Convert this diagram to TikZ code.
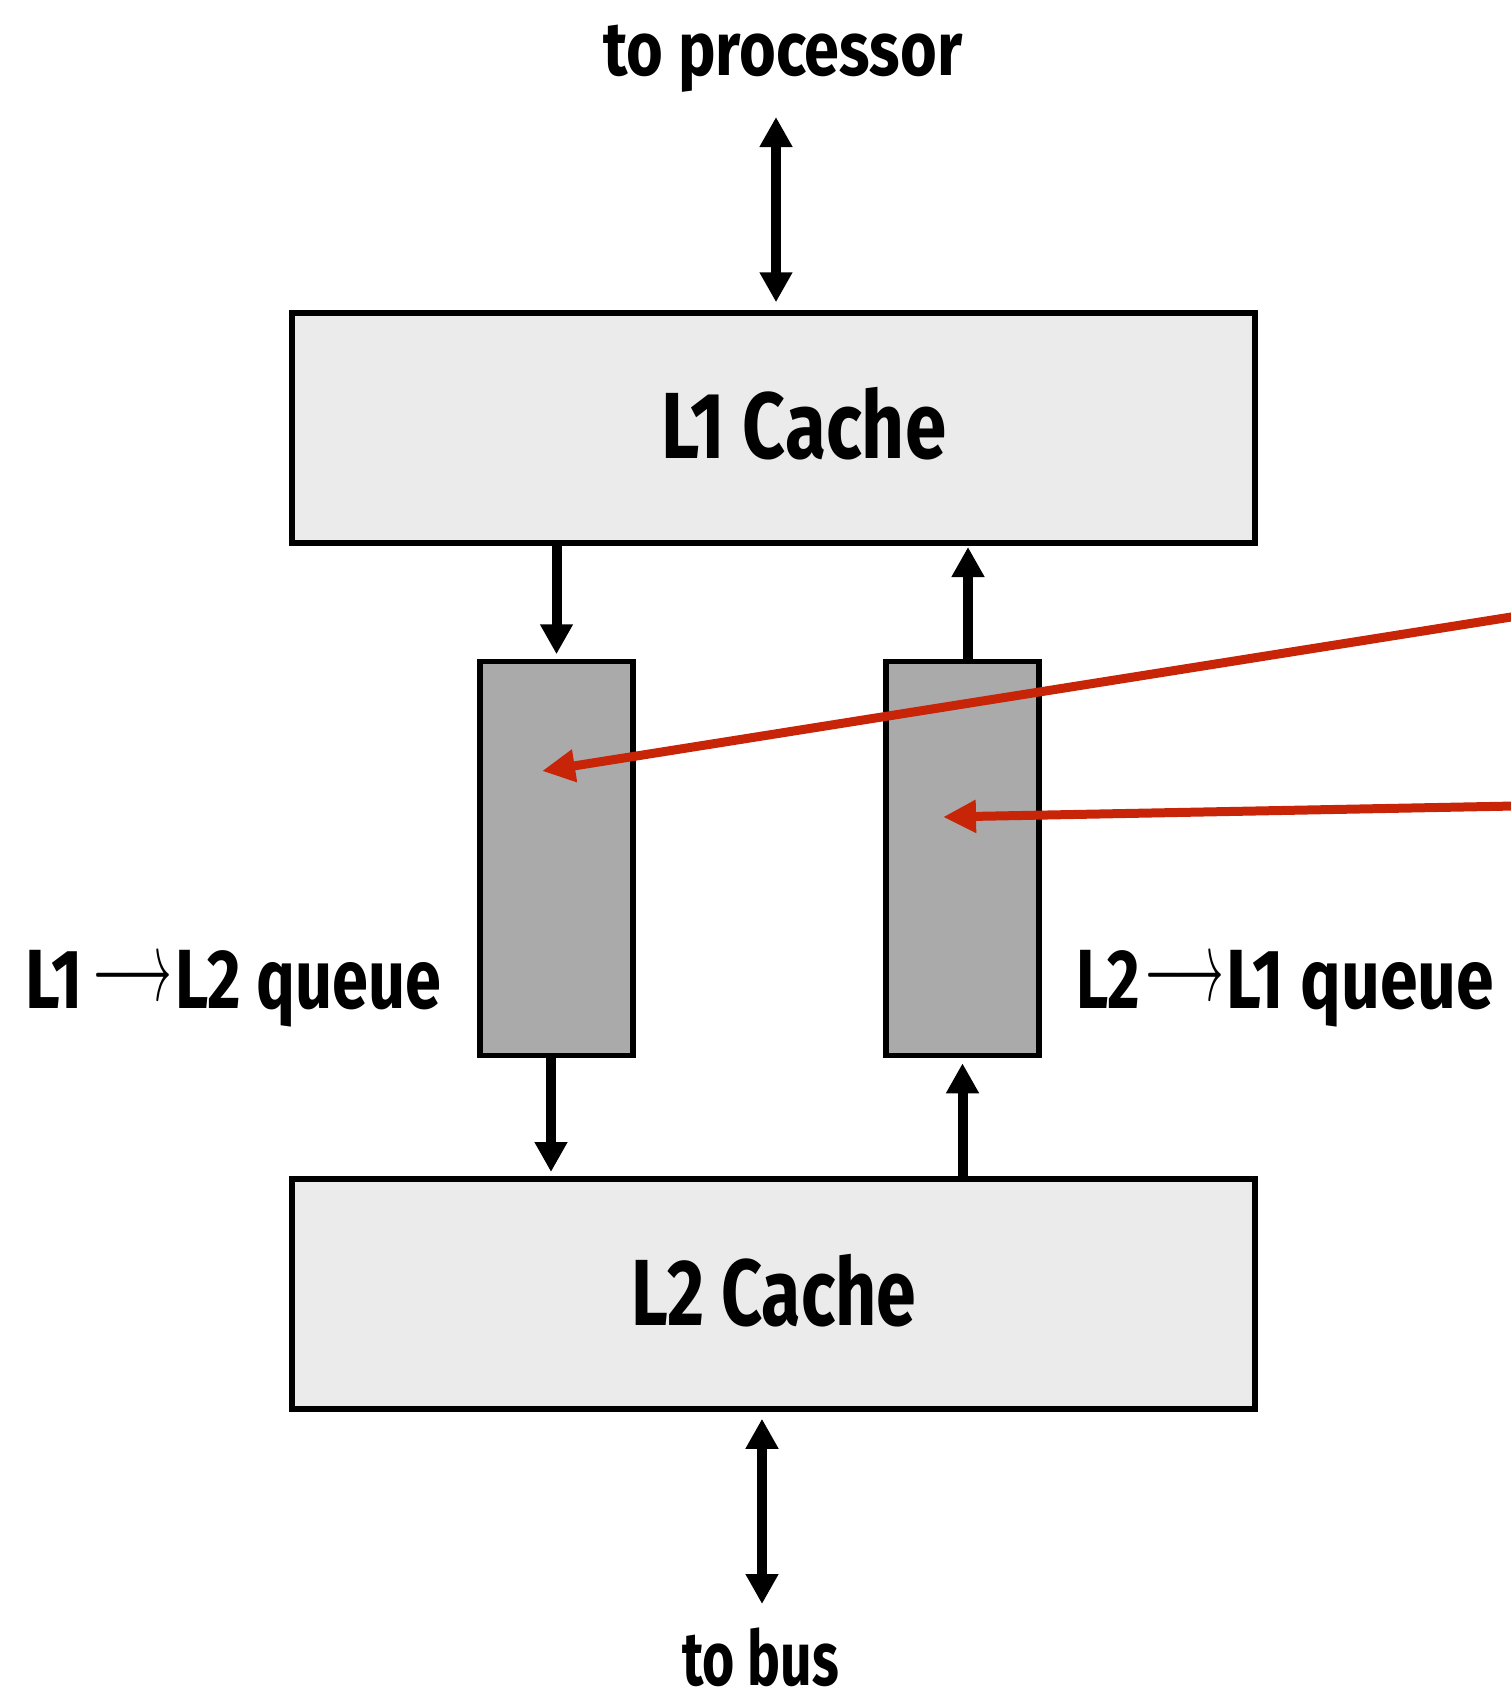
\documentclass[tikz,border=0pt]{standalone}
\usepackage{fontspec}
\usepackage{graphicx}
\setmainfont{Fira Sans}
\usetikzlibrary{arrows.meta}
\definecolor{boxfill}{HTML}{EBEBEB}
\definecolor{qfill}{HTML}{AAAAAA}
\definecolor{hl}{RGB}{199,36,8}
\newcommand{\fitw}[2]{\resizebox{#1}{\height}{#2}}
\newcommand{\thinarrow}{\raisebox{7.5pt}{\resizebox{80pt}{37pt}{\normalsize$\longrightarrow$}}}
\begin{document}
\begin{tikzpicture}[x=1pt,y=-1pt,
  cache/.style={draw=black, line width=5.5pt, fill=boxfill, minimum width=963pt, minimum height=230pt, inner sep=0pt},
  queuebox/.style={draw=black, line width=5.5pt, fill=qfill, minimum width=153pt, minimum height=394pt, inner sep=0pt},
  lbl/.style={anchor=base west, inner sep=0pt, font=\bfseries},
  flow/.style={line width=10pt, -{Triangle[length=30pt,width=31pt]}},
  twoway/.style={line width=10pt, {Triangle[length=30pt,width=31pt]}-{Triangle[length=30pt,width=31pt]}},
  pointer/.style={draw=hl, line width=9pt, -{Triangle[length=33pt,width=31pt]}}]
\useasboundingbox (0,0) rectangle (1511,1692);

% boxes
\node[cache] (L1) at (773.5,428) {};
\node[cache] (L2) at (773.5,1294) {};
\node[queuebox] (q1) at (556.5,858.5) {};
\node[queuebox] (q2) at (962.5,858.5) {};

% texts
\node[lbl] (tproc) at (603,75) {\fontsize{76pt}{80pt}\selectfont\fitw{359pt}{to processor}};
\node[lbl] (tL1) at (661,458) {\fontsize{94pt}{100pt}\selectfont\fitw{285pt}{L1 Cache}};
\node[lbl] (tL2) at (631,1325) {\fontsize{94pt}{100pt}\selectfont\fitw{285pt}{L2 Cache}};
\node[lbl] (tq1) at (25,1008) {\fontsize{84pt}{90pt}\selectfont\fitw{58pt}{L1}\hspace{9pt}\thinarrow\hspace{3pt}\fitw{266pt}{L2 queue}};
\node[lbl] (tq2) at (1076,1008) {\fontsize{84pt}{90pt}\selectfont\fitw{64pt}{L2}\hspace{4pt}\thinarrow\hspace{2pt}\fitw{268pt}{L1 queue}};
\node[lbl] (tbus) at (682,1685) {\fontsize{76pt}{80pt}\selectfont\fitw{157pt}{to bus}};

% free ends
\coordinate (ptop) at (776,117);
\coordinate (pbot) at (762,1604);
\coordinate (r1) at (1515,616.4);
\coordinate (r2) at (1515,806);
\coordinate (t1) at (542,771);
\coordinate (t2) at (943,817);

% black connectors
\draw[twoway, shorten >=8pt] (ptop) -- (ptop |- L1.north);
\draw[twoway, shorten <=7pt] (pbot |- L2.south) -- (pbot);
\draw[flow, shorten >=4.5pt] (q1.north |- L1.south) -- (q1.north);
\draw[flow, shorten >=7pt] (551,1055.5) -- (551,1179);
\draw[flow, shorten >=5pt] (q2.south |- L2.north) -- (q2.south);
\draw[flow, shorten >=3.5pt] (968,661.5) -- (968,543.5);

% red pointers
\draw[pointer] (r1) -- (t1);
\draw[pointer] (r2) -- (t2);
\end{tikzpicture}
\end{document}
